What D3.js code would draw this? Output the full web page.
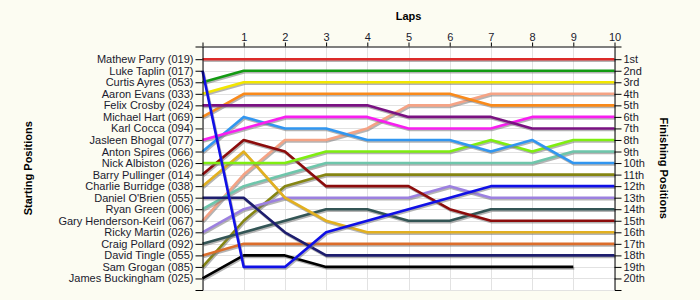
<!DOCTYPE html>
<html>
<head>
<meta charset="utf-8">
<script src="https://cdn.jsdelivr.net/npm/d3@7"></script>
<style>
  body { margin: 0; background: #fcfcf2; }
  svg { display: block; font-family: "Liberation Sans", Arial, sans-serif; }
  .axis text { font-size: 11px; fill: #1a1a2e; }
  .axis path, .axis line { stroke: #000; }
  .title { font-size: 11px; font-weight: bold; fill: #000; }
</style>
</head>
<body>
<div class="race-chart"></div>
<script>
var laps = [0, 1, 2, 3, 4, 5, 6, 7, 8, 9, 10];
var lapLabels = ["", "1", "2", "3", "4", "5", "6", "7", "8", "9", "10"];

var drivers = [
	"Mathew Parry (019)", "Luke Taplin (017)", "Curtis Ayres (053)", "Aaron Evans (033)",
	"Felix Crosby (024)", "Michael Hart (069)", "Karl Cocca (094)", "Jasleen Bhogal (077)",
	"Anton Spires (066)", "Nick Albiston (026)", "Barry Pullinger (014)", "Charlie Burridge (038)",
	"Daniel O'Brien (055)", "Ryan Green (006)", "Gary Henderson-Keirl (067)", "Ricky Martin (026)",
	"Craig Pollard (092)", "David Tingle (055)", "Sam Grogan (085)", "James Buckingham (025)"
];

var finishLabels = ["1st", "2nd", "3rd", "4th", "5th", "6th", "7th", "8th", "9th", "10th",
	"11th", "12th", "13th", "14th", "15th", "16th", "17th", "18th", "19th", "20th"];

// position of each driver after every lap (lap 0 = grid)
var positions = [
	[1, 1, 1, 1, 1, 1, 1, 1, 1, 1, 1],
	[2, 19, 19, 16, 15, 14, 13, 12, 12, 12, 12],
	[3, 2, 2, 2, 2, 2, 2, 2, 2, 2, 2],
	[4, 3, 3, 3, 3, 3, 3, 3, 3, 3, 3],
	[5, 5, 5, 5, 5, 6, 6, 6, 7, 7, 7],
	[6, 4, 4, 4, 4, 4, 4, 5, 5, 5, 5],
	[],
	[8, 7, 6, 6, 6, 7, 7, 7, 6, 6, 6],
	[9, 6, 7, 7, 8, 8, 8, 9, 8, 10, 10],
	[10, 10, 10, 9, 9, 9, 9, 8, 9, 8, 8],
	[11, 8, 9, 12, 12, 12, 14, 15, 15, 15, 15],
	[12, 9, 13, 15, 16, 16, 16, 16, 16, 16, 16],
	[13, 13, 16, 18, 18, 18, 18, 18, 18, 18, 18],
	[14, 12, 11, 10, 10, 10, 10, 10, 10, 9, 9],
	[15, 11, 8, 8, 7, 5, 5, 4, 4, 4, 4],
	[16, 14, 13, 13, 13, 13, 12, 13, 13, 13, 13],
	[17, 16, 15, 14, 14, 15, 15, 14, 14, 14, 14],
	[18, 17, 17, 17, 17, 17, 17, 17, 17, 17, 17],
	[19, 15, 12, 11, 11, 11, 11, 11, 11, 11, 11],
	[20, 18, 18, 19, 19, 19, 19, 19, 19, 19]
];

var colors = ["#dc2a2a", "#1010e6", "#129a12", "#f2e600", "#7a1182", "#f98a1b", "#999999",
	"#f81ef0", "#3196f0", "#7fee10", "#8c0c0c", "#e2b020", "#1d1d6e", "#6ec6ab",
	"#f5a385", "#9c80e0", "#335555", "#dc6d2b", "#858512", "#000000"];

function drawChart() {
	var sel = d3.select(".race-chart").html("");
	var width = 700, height = 300;

	var svg = sel.append("svg")
		.attr("width", width)
		.attr("height", height);

	var x = d3.scaleLinear().domain([0, 10]).range([202.5, 614.5]);
	var y = d3.scaleLinear().domain([-0.1, 21]).range([46.5, 290]);

	var slots = d3.range(1, 21);

	// plot background
	svg.append("rect")
		.attr("x", x(0)).attr("y", y(-0.1))
		.attr("width", x(10) - x(0)).attr("height", y(21) - y(-0.1))
		.attr("fill", "#fff");

	// grid
	svg.append("g").selectAll("line").data(laps).join("line")
		.attr("x1", d => Math.round(x(d)) + 0.5).attr("x2", d => Math.round(x(d)) + 0.5)
		.attr("y1", y(-0.1)).attr("y2", y(21))
		.attr("stroke", "#e2e2e2");
	svg.append("g").selectAll("line").data(slots.concat([21])).join("line")
		.attr("x1", x(0)).attr("x2", x(10))
		.attr("y1", d => Math.round(y(d)) + 0.5).attr("y2", d => Math.round(y(d)) + 0.5)
		.attr("stroke", "#e2e2e2");

	var line = d3.line()
		.x((d, i) => x(laps[i]))
		.y(d => y(d));

	var order = d3.range(drivers.length).reverse().filter(i => positions[i].length);

	var g = svg.append("g");
	order.forEach(function(i) {
		g.append("path")
			.attr("d", line(positions[i]))
			.attr("transform", "translate(1,1.5)")
			.attr("fill", "none")
			.attr("stroke", "#777")
			.attr("stroke-opacity", 0.55)
			.attr("stroke-width", 2.6)
			.attr("stroke-linejoin", "round");
		g.append("path")
			.attr("d", line(positions[i]))
			.attr("fill", "none")
			.attr("stroke", colors[i])
			.attr("stroke-width", 2.6)
			.attr("stroke-linejoin", "round");
	});

	var tickY = d3.scaleLinear().domain(y.domain()).range(y.range());

	svg.append("g")
		.attr("class", "axis")
		.attr("transform", "translate(" + x(0) + ",0)")
		.call(d3.axisLeft(tickY).tickValues(slots).tickSize(7).tickSizeOuter(7).tickPadding(2)
			.tickFormat(d => drivers[d - 1]));

	svg.append("g")
		.attr("class", "axis")
		.attr("transform", "translate(" + x(10) + ",0)")
		.call(d3.axisRight(tickY).tickValues(slots).tickSize(7).tickSizeOuter(7).tickPadding(2)
			.tickFormat(d => finishLabels[d - 1]));

	svg.append("g")
		.attr("class", "axis")
		.attr("transform", "translate(0," + y(-0.1) + ")")
		.call(d3.axisTop(x).tickValues(laps).tickSize(4).tickSizeOuter(0).tickPadding(2)
			.tickFormat(d => lapLabels[d]));

	svg.append("text")
		.attr("class", "title")
		.attr("x", (x(0) + x(10)) / 2).attr("y", 20)
		.attr("text-anchor", "middle")
		.text("Laps");

	var midY = (y(-0.1) + y(21)) / 2;
	svg.append("text")
		.attr("class", "title")
		.attr("text-anchor", "middle")
		.attr("transform", "translate(32," + midY + ") rotate(-90)")
		.text("Starting Positions");

	svg.append("text")
		.attr("class", "title")
		.attr("text-anchor", "middle")
		.attr("transform", "translate(660," + midY + ") rotate(90)")
		.text("Finishing Positions");
}

drawChart();
</script>
</body>
</html>
